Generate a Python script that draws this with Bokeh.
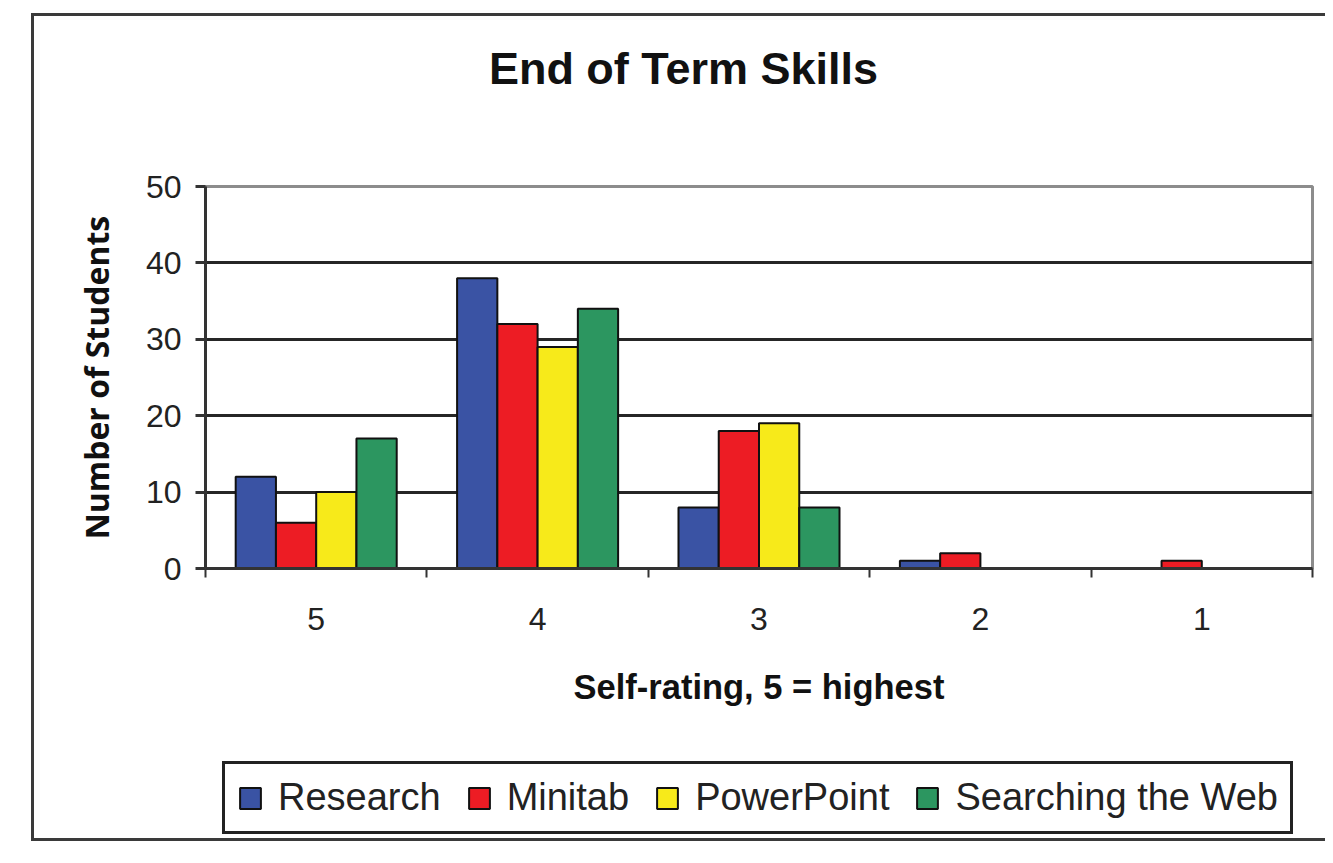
from bokeh.plotting import figure
from bokeh.layouts import column
from bokeh.models import (Range1d, FixedTicker, Legend, LegendItem, Label,
                          LinearAxis, ColumnDataSource)
from bokeh.embed import file_html
from bokeh.resources import INLINE
import numpy as np

# ---- data ----
ratings = ["5", "4", "3", "2", "1"]
series_names = ["Research", "Minitab", "PowerPoint", "Searching the Web"]
research = [12, 38, 8, 1, 0]
minitab = [6, 32, 18, 2, 1]
powerpoint = [10, 29, 19, 0, 0]
searching_web = [17, 34, 8, 0, 0]
series_values = [research, minitab, powerpoint, searching_web]
colors = ["#3a53a4", "#ed1c24", "#f7ea1a", "#2c9660"]
y_ticks = [0, 10, 20, 30, 40, 50]

title_text = "End of Term Skills"
x_label = "Self-rating, 5 = highest"
y_label = "Number of Students"

FONT = "Liberation Sans"
W = 1291
ML, MR = 171, 13


def strip(height):
    f = figure(width=W, height=height, output_backend="svg", toolbar_location=None,
               x_range=Range1d(0, 1), y_range=Range1d(0, 1), title=None,
               x_axis_type=None, y_axis_type=None,
               min_border_left=ML, min_border_right=MR,
               min_border_top=0, min_border_bottom=0)
    f.outline_line_color = None
    f.xgrid.visible = False
    f.ygrid.visible = False
    f.background_fill_color = "white"
    f.border_fill_color = "white"
    return f


# ---- title strip ----
pt = strip(150)
pt.add_layout(Label(x=478, y=98, x_units="screen", y_units="screen", text=title_text,
                    text_font=FONT, text_font_size="45px", text_font_style="bold",
                    text_color="#111111", text_align="center", text_baseline="alphabetic"))

# ---- chart ----
p = figure(width=W, height=574, output_backend="svg", toolbar_location=None,
           x_range=Range1d(0, len(ratings)), y_range=Range1d(0, 50),
           x_axis_type=None, title=None,
           min_border_left=ML, min_border_right=MR, min_border_top=20,
           min_border_bottom=172)
p.background_fill_color = "white"
p.border_fill_color = "white"
p.outline_line_color = "#8c8c8c"
p.outline_line_width = 3

n = len(series_names)
bw = 1.0 / (n + 1.5)
idx = np.arange(len(ratings)) + 0.5
sources = []
for k, (name, vals, col) in enumerate(zip(series_names, series_values, colors)):
    src = ColumnDataSource(dict(x=idx + (k - (n - 1) / 2) * bw, top=vals))
    sources.append(src)
    p.vbar(x="x", top="top", bottom=0, width=bw, source=src,
           fill_color=col, line_color="#111111", line_width=2)

ya = p.yaxis[0]
ya.ticker = FixedTicker(ticks=y_ticks, minor_ticks=[])
ya.major_tick_out = 10
ya.major_tick_in = 0
ya.major_tick_line_width = 3
ya.major_tick_line_color = "#333333"
ya.axis_line_width = 3
ya.axis_line_color = "#333333"
ya.major_label_text_font = FONT
ya.major_label_text_font_size = "32px"
ya.major_label_text_color = "#222222"
ya.major_label_standoff = 14
ya.axis_label = y_label
ya.axis_label_text_font = "Open Sans"
ya.axis_label_text_font_style = "bold"
ya.axis_label_text_font_size = "32px"
ya.axis_label_text_color = "#111111"
ya.axis_label_standoff = 25

xa = LinearAxis(ticker=FixedTicker(ticks=list(idx), minor_ticks=list(range(len(ratings) + 1))))
xa.major_label_overrides = {float(c): lab for c, lab in zip(idx, ratings)}
xa.major_tick_line_color = None
xa.minor_tick_line_color = "#333333"
xa.minor_tick_line_width = 2
xa.minor_tick_out = 9
xa.minor_tick_in = 0
xa.axis_line_width = 3
xa.axis_line_color = "#333333"
xa.major_label_text_font = FONT
xa.major_label_text_font_size = "32px"
xa.major_label_text_color = "#222222"
xa.major_label_standoff = 30
xa.axis_label = x_label
xa.axis_label_text_font = FONT
xa.axis_label_text_font_style = "bold"
xa.axis_label_text_font_size = "34.5px"
xa.axis_label_text_color = "#111111"
xa.axis_label_standoff = 35
p.add_layout(xa, "below")

p.xgrid.visible = False
p.ygrid.ticker = FixedTicker(ticks=y_ticks[1:-1])
p.ygrid.grid_line_color = "#262626"
p.ygrid.grid_line_width = 2.8

# ---- legend strip ----
pl = strip(98)
leg_renderers = []
for src, col in zip(sources, colors):
    r = pl.vbar(x="x", top="top", bottom=0, width=bw, source=src,
                fill_color=col, line_color="#111111", line_width=2, visible=False)
    leg_renderers.append(r)

legend = Legend(items=[LegendItem(label=nm, renderers=[r]) for nm, r in zip(series_names, leg_renderers)],
                orientation="horizontal", location=(17, 4))
legend.label_text_font = FONT
legend.label_text_font_size = "38px"
legend.label_text_color = "#222222"
legend.glyph_width = 26
legend.glyph_height = 26
legend.label_standoff = 15
legend.spacing = 25
legend.padding = 12
legend.margin = 0
legend.border_line_color = "#222222"
legend.border_line_alpha = 1
legend.border_line_width = 3
legend.background_fill_color = "white"
legend.inactive_fill_alpha = 0
legend.click_policy = "none"
pl.add_layout(legend, "center")

layout = column(pt, p, pl, spacing=0, margin=(13, 0, 0, 31),
                styles={"border-top": "3px solid #3a3a3a",
                        "border-left": "3px solid #3a3a3a",
                        "border-bottom": "3px solid #3a3a3a"})

open("out.html", "w").write(file_html(layout, INLINE))
